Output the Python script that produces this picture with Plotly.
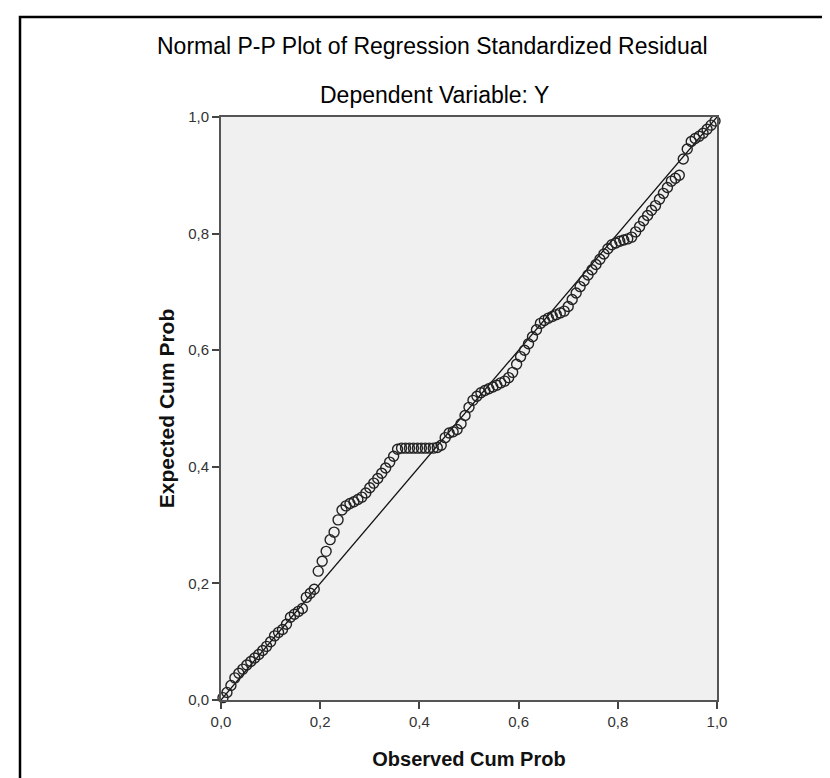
import plotly.graph_objects as go

# Observed cumulative probability (x) and expected cumulative probability (y)
observed_cum_prob = [
    0.004, 0.012, 0.020, 0.028, 0.036, 0.044, 0.052, 0.060, 0.068, 0.076,
    0.084, 0.092, 0.100, 0.108, 0.116, 0.124, 0.132, 0.140, 0.148, 0.156,
    0.164, 0.172, 0.180, 0.188, 0.196, 0.204, 0.212, 0.220, 0.228, 0.236,
    0.244, 0.252, 0.260, 0.268, 0.276, 0.284, 0.292, 0.300, 0.308, 0.316,
    0.324, 0.332, 0.340, 0.348, 0.356, 0.364, 0.372, 0.380, 0.388, 0.396,
    0.404, 0.412, 0.420, 0.428, 0.436, 0.444, 0.452, 0.460, 0.468, 0.476,
    0.484, 0.492, 0.500, 0.508, 0.516, 0.524, 0.532, 0.540, 0.548, 0.556,
    0.564, 0.572, 0.580, 0.588, 0.596, 0.604, 0.612, 0.620, 0.628, 0.636,
    0.644, 0.652, 0.660, 0.668, 0.676, 0.684, 0.692, 0.700, 0.708, 0.716,
    0.724, 0.732, 0.740, 0.748, 0.756, 0.764, 0.772, 0.780, 0.788, 0.796,
    0.804, 0.812, 0.820, 0.828, 0.836, 0.844, 0.852, 0.860, 0.868, 0.876,
    0.884, 0.892, 0.900, 0.908, 0.916, 0.924, 0.932, 0.940, 0.948, 0.956,
    0.964, 0.972, 0.980, 0.988, 0.996,
]
expected_cum_prob = [
    0.004, 0.013, 0.025, 0.038, 0.046, 0.053, 0.060, 0.066, 0.072, 0.078,
    0.085, 0.092, 0.100, 0.110, 0.116, 0.121, 0.130, 0.142, 0.147, 0.152,
    0.157, 0.176, 0.183, 0.190, 0.221, 0.238, 0.255, 0.275, 0.288, 0.309,
    0.326, 0.333, 0.337, 0.340, 0.344, 0.348, 0.355, 0.364, 0.372, 0.380,
    0.389, 0.398, 0.408, 0.418, 0.430, 0.432, 0.432, 0.432, 0.432, 0.432,
    0.432, 0.432, 0.432, 0.432, 0.433, 0.437, 0.450, 0.458, 0.460, 0.464,
    0.474, 0.488, 0.502, 0.514, 0.521, 0.527, 0.531, 0.534, 0.537, 0.540,
    0.544, 0.547, 0.553, 0.562, 0.576, 0.589, 0.600, 0.611, 0.623, 0.635,
    0.646, 0.651, 0.655, 0.658, 0.661, 0.664, 0.667, 0.675, 0.687, 0.698,
    0.709, 0.719, 0.729, 0.738, 0.747, 0.756, 0.765, 0.774, 0.781, 0.784,
    0.787, 0.789, 0.791, 0.794, 0.803, 0.812, 0.822, 0.831, 0.840, 0.848,
    0.859, 0.869, 0.879, 0.890, 0.895, 0.900, 0.928, 0.945, 0.958, 0.963,
    0.967, 0.972, 0.979, 0.986, 0.993,
]
reference_line_x = [0.0, 1.0]
reference_line_y = [0.0, 1.0]

tick_values = [0.0, 0.2, 0.4, 0.6, 0.8, 1.0]
tick_labels = ["0,0", "0,2", "0,4", "0,6", "0,8", "1,0"]

title_text = "Normal P-P Plot of Regression Standardized Residual"
subtitle_text = "Dependent Variable: Y"
x_title = "Observed Cum Prob"
y_title = "Expected Cum Prob"

FONT = "Arial, 'Liberation Sans', sans-serif"

W, H = 830, 778
L, R, T, B = 213, 709, 109, 692  # plot area in pixels


def px_x(px):
    return (px - L) / (R - L)


def px_y(py):
    return (B - py) / (B - T)


fig = go.Figure()
fig.add_trace(go.Scatter(
    x=reference_line_x, y=reference_line_y, mode="lines",
    line=dict(color="#111111", width=1.3), hoverinfo="skip", showlegend=False,
))
fig.add_trace(go.Scatter(
    x=observed_cum_prob, y=expected_cum_prob, mode="markers",
    marker=dict(symbol="circle-open", size=10, color="#222222",
                line=dict(width=1.4, color="#222222")),
    cliponaxis=False, showlegend=False,
))

axis_common = dict(
    range=[0, 1], tickvals=tick_values, ticktext=tick_labels,
    showgrid=False, zeroline=False, showline=True, linecolor="#555555",
    linewidth=2, mirror=True, ticks="outside", ticklen=7, tickwidth=1.5,
    tickcolor="#444444", tickfont=dict(family=FONT, size=15, color="#333333"),
    fixedrange=True,
)

fig.update_layout(
    width=W, height=H,
    margin=dict(l=L, r=W - R, t=T, b=H - B, pad=0),
    paper_bgcolor="white", plot_bgcolor="#f0f0f0",
    xaxis=dict(**axis_common,
               title=dict(text="<b>" + x_title + "</b>", standoff=23,
                          font=dict(family=FONT, size=20, color="#111111"))),
    yaxis=dict(**axis_common,
               title=dict(text="<b>" + y_title + "</b>", standoff=8,
                          font=dict(family=FONT, size=21, color="#111111"))),
    shapes=[dict(type="rect", xref="paper", yref="paper",
                 x0=px_x(12), x1=px_x(845), y0=px_y(790), y1=px_y(9),
                 line=dict(color="#000000", width=2.5), layer="above")],
    annotations=[
        dict(text=title_text, xref="paper", yref="paper", x=px_x(424), y=px_y(38),
             xanchor="center", yanchor="middle", showarrow=False,
             font=dict(family=FONT, size=23, color="#000000")),
        dict(text=subtitle_text, xref="paper", yref="paper", x=px_x(426), y=px_y(87),
             xanchor="center", yanchor="middle", showarrow=False,
             font=dict(family=FONT, size=23, color="#000000")),
    ],
)

fig.write_html("out.html")
